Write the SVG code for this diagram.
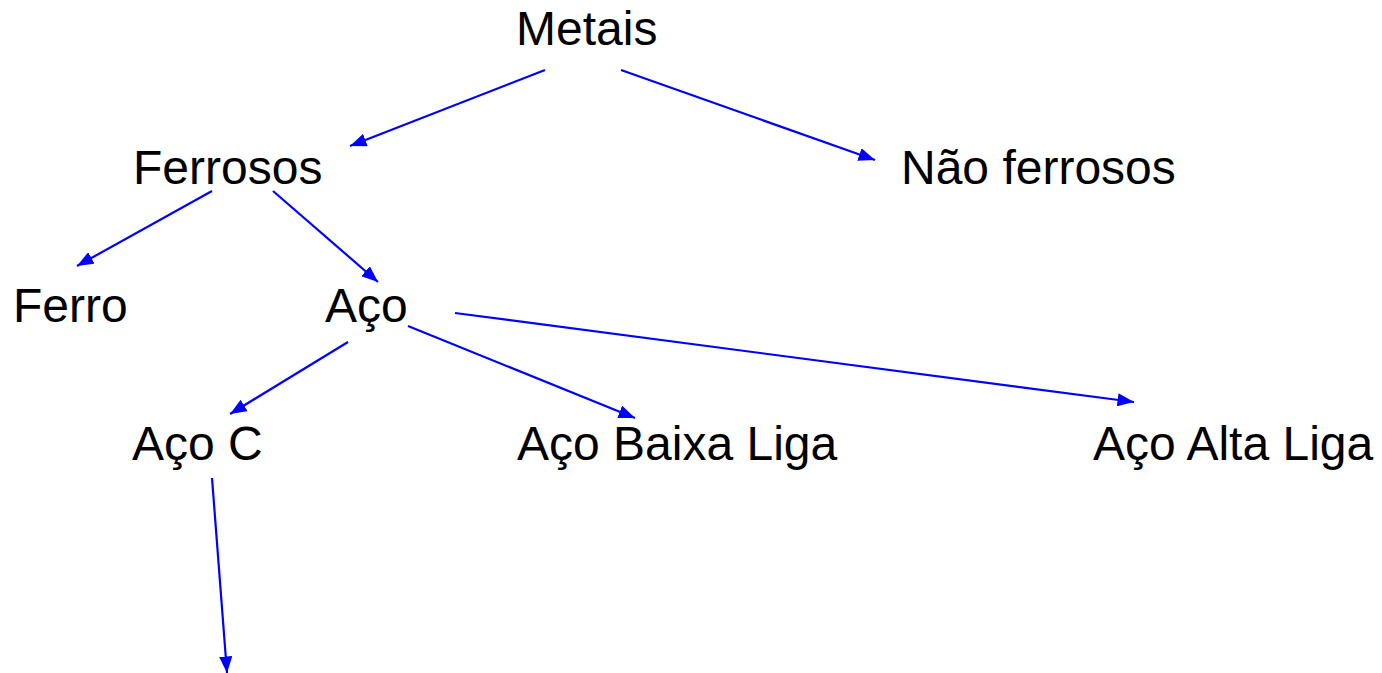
<svg xmlns="http://www.w3.org/2000/svg" width="1382" height="673" viewBox="0 0 1382 673">
  <style>
    .lbl { font-family: "Liberation Sans", Arial, sans-serif; font-size: 48px; fill: #000; }
    .edge { stroke: #0000FF; stroke-width: 2.2; fill: none; marker-end: url(#arrow); }
  </style>
  <defs>
    <marker id="arrow" viewBox="0 0 10 8" refX="10" refY="4" markerWidth="7.5" markerHeight="6" orient="auto" markerUnits="strokeWidth">
      <path d="M0,0 L10,4 L0,8 Z" fill="#0000FF"/>
    </marker>
  </defs>
  <rect width="1382" height="673" fill="#fff"/>

  <g id="connectors">
    <line class="edge" x1="545" y1="70" x2="350" y2="146"/>
    <line class="edge" x1="621" y1="70" x2="875" y2="160"/>
    <line class="edge" x1="212" y1="191" x2="77" y2="266"/>
    <line class="edge" x1="273" y1="191" x2="378" y2="282"/>
    <line class="edge" x1="348" y1="342" x2="230" y2="414"/>
    <line class="edge" x1="408" y1="326" x2="635" y2="418"/>
    <line class="edge" x1="455" y1="313" x2="1134" y2="402"/>
    <line class="edge" x1="212" y1="478" x2="227" y2="673"/>
  </g>

  <g id="metais"><text class="lbl" x="516" y="45">Metais</text></g>
  <g id="ferrosos"><text class="lbl" x="133" y="184">Ferrosos</text></g>
  <g id="nao-ferrosos"><text class="lbl" x="901" y="184">Não ferrosos</text></g>
  <g id="ferro"><text class="lbl" x="13" y="322">Ferro</text></g>
  <g id="aco"><text class="lbl" x="325" y="322">Aço</text></g>
  <g id="aco-c"><text class="lbl" x="132" y="460">Aço C</text></g>
  <g id="aco-baixa-liga"><text class="lbl" x="517" y="460">Aço Baixa Liga</text></g>
  <g id="aco-alta-liga"><text class="lbl" x="1093" y="460">Aço Alta Liga</text></g>
</svg>
